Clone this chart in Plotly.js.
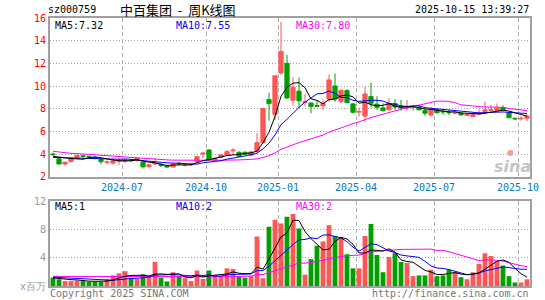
<!DOCTYPE html>
<html><head><meta charset="utf-8">
<script src="https://cdn.plot.ly/plotly-3.0.1.min.js"></script>
<style>html,body{margin:0;padding:0;background:#fff;}#chart{width:545px;height:300px;}</style>
</head><body><div id="chart"></div>
<script>
// Weekly K-line data, 中百集团 (sz000759), weeks starting 2024-04-08
const firstWeek = '2024-04-08';
const openP = [4.0,3.58,3.12,3.33,3.68,3.85,3.8,3.72,3.52,3.26,
  3.2,3.35,3.35,3.48,3.5,3.28,2.9,3.12,3.08,2.98,
  2.85,3.2,3.0,3.05,3.32,4.0,4.36,3.48,3.71,3.92,
  4.28,4.15,4.15,3.9,4.2,5.0,8.8,7.5,11.15,12.0,
  8.75,9.55,8.55,8.5,8.28,8.25,8.85,10.0,8.65,9.6,
  8.42,7.7,7.35,9.07,8.4,8.07,7.9,8.45,8.24,8.08,
  8.1,8.12,7.83,7.45,7.9,7.78,7.7,7.6,7.6,7.4,
  7.3,7.5,7.75,7.85,7.85,8.1,7.65,7.15,7.1,7.15];
const highP = [4.12,3.72,3.33,3.7,3.92,3.92,3.85,3.76,3.62,3.42,
  3.62,3.62,3.6,3.55,3.68,3.32,3.1,3.68,3.18,3.0,
  3.25,3.3,3.1,3.2,3.8,4.12,4.4,3.7,4.0,4.36,
  4.51,4.25,4.25,4.3,5.85,8.05,9.4,10.95,15.67,12.75,
  10.8,10.75,9.3,8.55,8.7,8.8,11.0,11.1,9.75,9.7,
  8.5,8.05,9.95,10.3,9.1,8.48,8.92,8.83,8.77,8.77,
  8.33,8.24,8.04,8.12,7.95,7.95,7.9,7.85,7.7,7.6,
  7.6,7.95,8.62,8.33,8.45,8.3,7.7,7.2,7.35,7.5];
const lowP = [3.85,3.08,2.97,3.25,3.62,3.68,3.65,3.55,3.1,3.1,
  3.05,3.05,3.2,3.3,3.3,2.72,2.75,3.0,2.85,2.75,
  2.82,3.05,2.9,2.92,3.25,3.62,3.45,3.45,3.68,3.85,
  3.92,3.75,3.9,3.85,4.15,4.95,6.95,7.0,11.0,8.85,
  8.25,8.05,8.2,7.6,8.15,7.85,8.6,8.6,8.5,8.45,
  7.6,7.3,6.8,8.1,7.9,7.74,7.85,7.9,7.83,7.83,
  7.83,7.85,7.36,7.3,7.55,7.45,7.45,7.5,7.4,7.35,
  7.25,7.45,7.6,7.7,7.75,7.85,7.15,7.0,6.95,6.9];
const closeP = [3.95,3.12,3.28,3.62,3.88,3.8,3.74,3.62,3.32,3.3,
  3.4,3.42,3.48,3.42,3.6,2.88,3.05,3.18,2.98,2.85,
  3.1,3.12,3.05,3.1,3.77,4.08,3.5,3.62,3.92,4.21,
  4.34,3.8,3.98,4.18,5.0,8.02,8.45,10.9,13.05,8.95,
  9.9,8.7,8.62,8.2,8.22,8.45,10.54,8.85,9.6,8.55,
  7.68,7.75,9.3,8.48,8.12,7.83,8.48,8.15,8.07,8.14,
  8.13,7.9,7.6,7.95,7.65,7.72,7.65,7.65,7.45,7.5,
  7.5,7.62,7.9,7.9,8.05,7.9,7.2,7.1,7.15,7.35];
// volume, millions
const volume = [1.2,0.95,0.7,0.7,0.75,0.7,0.6,0.6,0.6,0.95,
  1.5,1.8,2.1,1.1,1.0,1.65,1.3,3.4,1.2,0.65,
  1.95,1.4,1.1,0.7,2.2,1.0,2.2,1.55,1.3,2.5,
  2.4,1.3,1.2,1.4,7.0,1.1,8.4,9.4,8.85,9.8,
  10.2,8.15,1.6,3.8,5.7,6.3,8.6,7.1,6.8,4.5,
  2.5,2.5,7.1,8.8,4.4,1.95,4.1,4.65,3.4,3.25,
  1.4,1.5,1.5,2.3,1.4,1.5,2.3,2.0,1.25,0.95,
  1.95,3.15,4.65,4.25,3.5,2.9,1.4,0.5,0.5,0.95];
// moving-average values before enough weeks are visible
const ma5Head = [3.8,3.72,3.65,3.6];
const ma10Head = [3.7,3.68,3.66,3.64,3.62,3.6,3.58,3.56,3.54];
const ma30Head = [4.24,4.16,4.12,4.06,4.04,4.0,3.98,3.95,3.9,3.88,3.85,3.8,3.75,3.7,3.65,
  3.6,3.55,3.52,3.5,3.48,3.46,3.45,3.45,3.44,3.44,3.44,3.44,3.45,3.45];
const vma5Head = [1.15,1.05,0.95,0.9];
const vma10Head = [1.25,1.2,1.15,1.1,1.0,0.95,0.9,0.85,0.85];
const vma30Head = [1.36,1.36,1.36,1.36,1.36,1.36,1.36,1.36,1.36,1.42,1.42,1.42,1.42,1.42,1.42,
  1.42,1.42,1.42,1.42,1.42,1.4,1.4,1.4,1.38,1.38,1.36,1.35,1.33,1.32];
const tickWeeks = ['2024-07-01','2024-10-07','2024-12-30','2025-03-31','2025-06-30','2025-10-06'];
const tickLabels = ['2024-07','2024-10','2025-01','2025-04','2025-07','2025-10'];
const priceLegend = ['MA5:7.32','MA10:7.55','MA30:7.80'];
const volLegend = ['MA5:1','MA10:2','MA30:2'];

const RED = '#ff5555', GREEN = '#00a000';
const MONO = 'DejaVu Sans Mono';

const weeks = closeP.map((_, i) => {
  const d = new Date(firstWeek + 'T00:00:00Z');
  d.setUTCDate(d.getUTCDate() + 7 * i);
  return d.toISOString().slice(0, 10);
});
const xIdx = weeks.map((_, i) => i);
function movingAvg(vals, n, head) {
  return vals.map((v, i) => {
    if (i < n - 1) return head[i];
    let s = 0; for (let k = i - n + 1; k <= i; k++) s += vals[k];
    return s / n;
  });
}
const tickVals = tickWeeks.map(w => weeks.indexOf(w) - 0.5);
const volColors = closeP.map((c, i) => c >= openP[i] ? RED : GREEN);

const traces = [
  {type: 'candlestick', x: xIdx, open: openP, high: highP, low: lowP, close: closeP,
   xaxis: 'x', yaxis: 'y', hoverinfo: 'skip', whiskerwidth: 0,
   increasing: {line: {color: RED, width: 1}, fillcolor: RED},
   decreasing: {line: {color: GREEN, width: 1}, fillcolor: GREEN}},
  {type: 'scatter', mode: 'lines', x: xIdx, y: movingAvg(closeP, 30, ma30Head), line: {color: '#ff00ff', width: 1}, xaxis: 'x', yaxis: 'y', hoverinfo: 'skip'},
  {type: 'scatter', mode: 'lines', x: xIdx, y: movingAvg(closeP, 10, ma10Head), line: {color: '#0000ff', width: 1}, xaxis: 'x', yaxis: 'y', hoverinfo: 'skip'},
  {type: 'scatter', mode: 'lines', x: xIdx, y: movingAvg(closeP, 5, ma5Head), line: {color: '#000000', width: 1}, xaxis: 'x', yaxis: 'y', hoverinfo: 'skip'},
  {type: 'bar', x: xIdx, y: volume, marker: {color: volColors, line: {width: 0}}, xaxis: 'x2', yaxis: 'y2', hoverinfo: 'skip'},
  {type: 'scatter', mode: 'lines', x: xIdx, y: movingAvg(volume, 30, vma30Head), line: {color: '#ff00ff', width: 1}, xaxis: 'x2', yaxis: 'y2', hoverinfo: 'skip'},
  {type: 'scatter', mode: 'lines', x: xIdx, y: movingAvg(volume, 10, vma10Head), line: {color: '#0000ff', width: 1}, xaxis: 'x2', yaxis: 'y2', hoverinfo: 'skip'},
  {type: 'scatter', mode: 'lines', x: xIdx, y: movingAvg(volume, 5, vma5Head), line: {color: '#000000', width: 1}, xaxis: 'x2', yaxis: 'y2', hoverinfo: 'skip'}
];

const axisBase = {showline: true, mirror: true, linecolor: '#a0a0a0', linewidth: 2, zeroline: false, ticks: '', fixedrange: true};
const W = 480, H = 268, L = 50, T = 18;
const px = v => (v - L) / W, py = v => (T + H - v) / H;
function ann(text, x, y, color, anchor, size, family, extra) {
  return Object.assign({text: text, x: px(x), y: py(y), xref: 'paper', yref: 'paper', xanchor: anchor, yanchor: 'middle',
    showarrow: false, borderpad: 0, font: {family: family || MONO, size: size || 10, color: color}}, extra || {});
}
const legendColors = ['#000000', '#0000ff', '#ff00ff'];
const legendX = [54, 175, 295];
const annotations = [
  ann('sz000759', 47, 9, '#000', 'left', 10),
  ann('中百集团&nbsp;&nbsp;-&nbsp;&nbsp;周K线图', 119, 9, '#000', 'left', 13, 'Noto Sans CJK SC'),
  ann('2025-10-15 13:39:27', 530, 9, '#000', 'right', 10),
  ann('Copyright 2025 SINA.COM', 49, 293, '#777', 'left', 10),
  ann('http://finance.sina.com.cn', 530, 293, '#777', 'right', 10),
  ann('<i><b>sina</b></i>', 512, 166, '#c4c4c4', 'center', 16, 'DejaVu Sans'),
  ann('●', 510, 152, '#f3a0a0', 'center', 8, 'DejaVu Sans')
];
priceLegend.forEach((t, i) => annotations.push(ann(t, legendX[i], 25, legendColors[i], 'left', 10)));
volLegend.forEach((t, i) => annotations.push(ann(t, legendX[i], 206, legendColors[i], 'left', 10)));

const layout = {
  width: 545, height: 300, margin: {l: L, r: 545 - L - W, t: T, b: 300 - T - H},
  paper_bgcolor: '#fff', plot_bgcolor: '#fff', showlegend: false, hovermode: false,
  boxgap: 0.3, boxgroupgap: 0, bargap: 0.2,
  xaxis: Object.assign({}, axisBase, {domain: [0, 1], range: [-0.5, xIdx.length - 0.5], anchor: 'y',
    rangeslider: {visible: false}, tickmode: 'array', tickvals: tickVals, ticktext: tickLabels,
    showgrid: true, gridcolor: '#b0b0b0', griddash: '4px,3px', gridwidth: 1,
    tickfont: {family: MONO, size: 10, color: '#0a78c8'}}),
  yaxis: Object.assign({}, axisBase, {domain: [(T + H - 176.7) / H, 1], range: [2, 16], anchor: 'x',
    tickmode: 'array', tickvals: [2, 4, 6, 8, 10, 12, 14, 16],
    showgrid: true, gridcolor: '#a0a0a0', griddash: '1px,2px', gridwidth: 1,
    tickfont: {family: MONO, size: 10, color: '#ff0000'}}),
  xaxis2: Object.assign({}, axisBase, {domain: [0, 1], range: [-0.5, xIdx.length - 0.5], anchor: 'y2',
    tickmode: 'array', tickvals: tickVals, showticklabels: false,
    showgrid: true, gridcolor: '#b0b0b0', griddash: '4px,3px', gridwidth: 1}),
  yaxis2: Object.assign({}, axisBase, {domain: [0, (T + H - 201.3) / H], range: [0, 12], anchor: 'x2',
    tickmode: 'array', tickvals: [0, 4, 8, 12], ticktext: ['x百万', '4', '8', '12'],
    showgrid: true, gridcolor: '#a0a0a0', griddash: '1px,2px', gridwidth: 1,
    tickfont: {family: MONO, size: 10, color: '#999'}}),
  annotations: annotations
};
Plotly.newPlot('chart', traces, layout, {staticPlot: true, displayModeBar: false});
</script></body></html>
